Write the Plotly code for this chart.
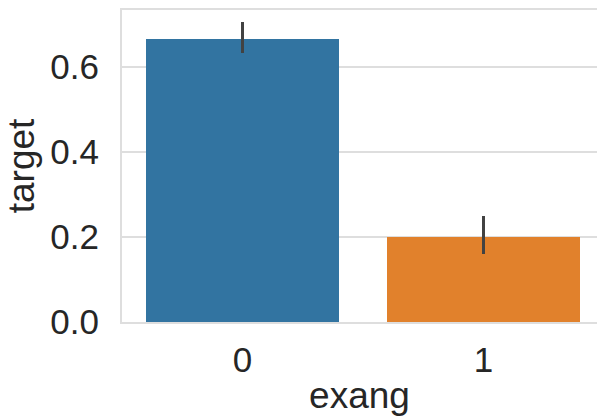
import plotly.graph_objects as go

categories = [0, 1]
tick_labels = ["0", "1"]
means = [0.665, 0.200]
ci_low = [0.632, 0.159]
ci_high = [0.704, 0.250]
bar_colors = ["#3274a1", "#e1812c"]

err_plus = [h - m for h, m in zip(ci_high, means)]
err_minus = [m - l for m, l in zip(means, ci_low)]

FONT = "Liberation Sans, Arial, sans-serif"
TXT = "#262626"
GRID = "#dedede"

fig = go.Figure()
fig.add_trace(go.Bar(
    x=categories, y=means, width=0.8,
    marker=dict(color=bar_colors, line=dict(width=0)),
    error_y=dict(type="data", array=err_plus, arrayminus=err_minus,
                 symmetric=False, thickness=3.5, width=0, color="#424242"),
    showlegend=False,
))

fig.update_layout(
    width=597, height=416,
    margin=dict(l=122, r=0, t=10, b=94, autoexpand=False),
    paper_bgcolor="white", plot_bgcolor="white",
    font=dict(family=FONT, color=TXT, size=35),
    bargap=0,
)
fig.update_xaxes(
    range=[-0.5, 1.471], tickvals=categories, ticktext=tick_labels,
    showgrid=False, zeroline=False,
    showline=True, linecolor=GRID, linewidth=2, mirror=True,
    ticks="outside", ticklen=6, tickcolor="rgba(0,0,0,0)",
    tickfont=dict(size=35, family=FONT, color=TXT),
    title=dict(text="exang", font=dict(size=37, family=FONT, color=TXT), standoff=4),
    automargin=False,
)
fig.update_yaxes(
    range=[0, 0.7333], tickvals=[0, 0.2, 0.4, 0.6], ticktext=["0.0", "0.2", "0.4", "0.6"],
    showgrid=True, gridcolor=GRID, gridwidth=2, zeroline=False,
    showline=True, linecolor=GRID, linewidth=2, mirror=False,
    ticks="outside", ticklen=14, tickcolor="rgba(0,0,0,0)",
    tickfont=dict(size=35, family=FONT, color=TXT),
    title=dict(text="target", font=dict(size=37, family=FONT, color=TXT), standoff=4),
    automargin=False,
)

fig.write_html("out.html")
